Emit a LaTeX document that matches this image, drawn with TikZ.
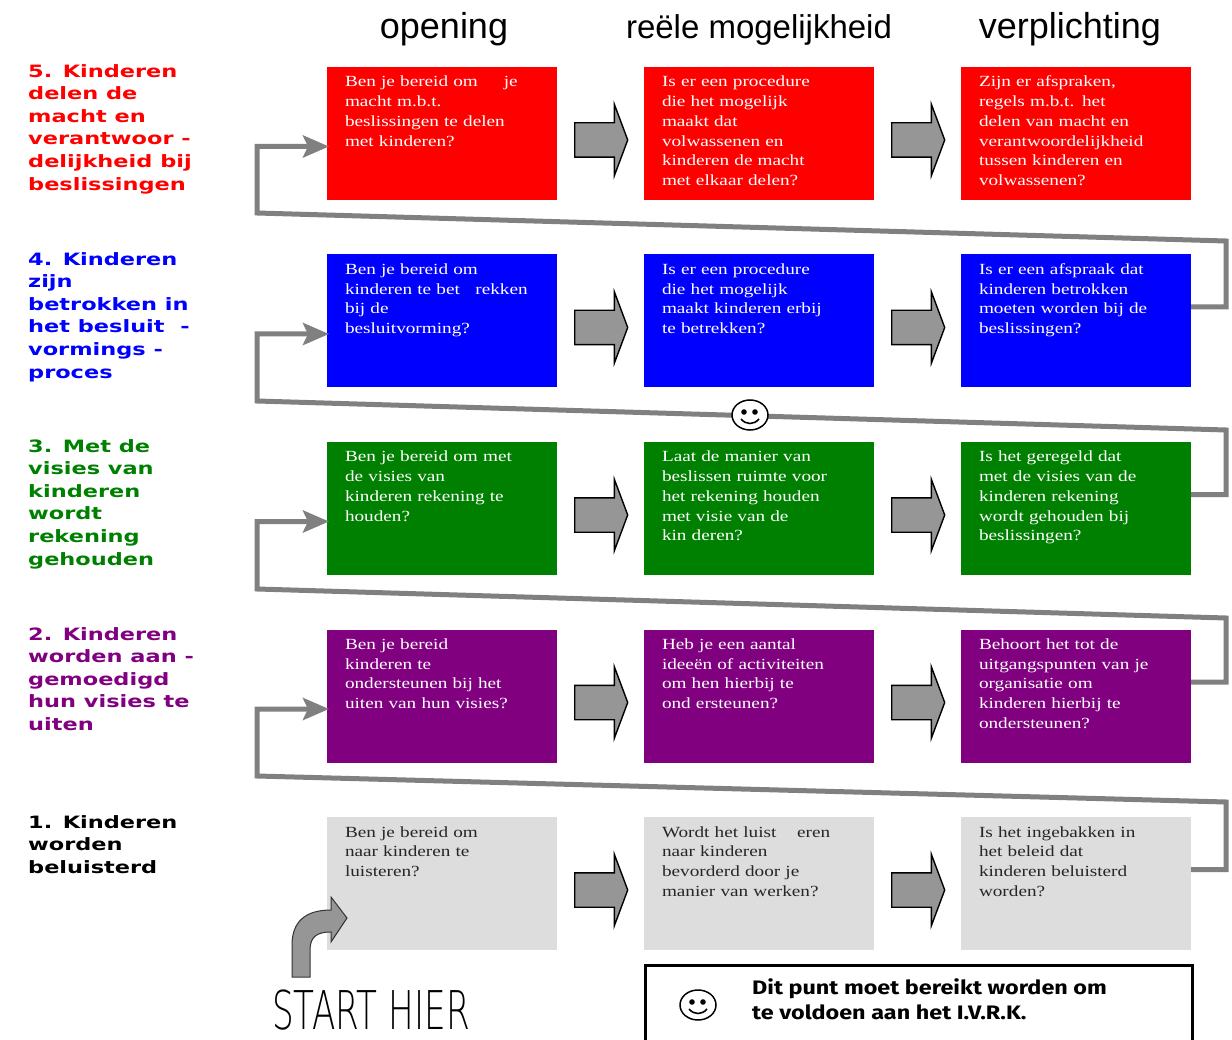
\documentclass[tikz,border=0pt]{standalone}
\usepackage{fontspec}
\setmainfont[FakeStretch=1.24]{Liberation Serif}
\newfontfamily\headfont{Liberation Sans}
\newfontfamily\labfont[FakeStretch=1.32]{DejaVu Sans}
\newfontfamily\notefont[FakeStretch=1.2]{Fira Sans}
\newfontfamily\startfont{DejaVu Sans ExtraLight}
\usetikzlibrary{positioning, arrows.meta, calc, shapes.geometric, shapes.arrows}

\begin{document}
\begin{tikzpicture}[x=1pt, y=-1pt]
	% Define styles
	\tikzset{
		card/.style={rectangle, outer sep=0pt, inner xsep=18pt, inner ysep=6pt, text width=194pt, align=left, text height=14pt, text depth=107pt, font=\fontsize{15.5}{19.7}\selectfont},
		redcard/.style={card, fill=red, text=white},
		bluecard/.style={card, fill=blue, text=white},
		greencard/.style={card, fill=green!50!black, text=white},
		purplecard/.style={card, fill=purple0, text=white},
		greycard/.style={card, fill=grey0, text=black!85},
		blockarrow/.style={single arrow, draw=black, line width=1.4pt, fill=arrowgrey, inner xsep=0pt, inner ysep=16.5pt, minimum height=53pt, single arrow head extend=18.5pt, single arrow tip angle=139},
		loopline/.style={draw=loopgrey, line width=5pt, -{Stealth[length=26pt, width=22pt, inset=5pt]}},
		lab/.style={anchor=north west, inner sep=0pt, align=left, font=\labfont\bfseries\fontsize{17}{22.6}\selectfont},
		head/.style={inner sep=0pt, font=\headfont\fontsize{36}{40}\selectfont},
		face/.style={ellipse, draw=black, line width=1.5pt, fill=white, minimum width=36pt, minimum height=30pt, inner sep=0pt}
	}
	\definecolor{purple0}{HTML}{800080}
	\definecolor{grey0}{HTML}{DDDDDD}
	\definecolor{arrowgrey}{HTML}{969696}
	\definecolor{loopgrey}{HTML}{808080}
	\clip (0,0) rectangle (1232,1040);
	% Nodes
	\node[redcard, anchor=north west] (a5) at (327,67) {Ben je bereid om\quad\ \ je\\macht m.b.t.\\beslissingen te delen\\met kinderen?};
	\node[redcard, right=87pt of a5] (b5) {Is er een procedure\\die het mogelijk\\maakt dat\\volwassenen en\\kinderen de macht\\met elkaar delen?};
	\node[redcard, right=87pt of b5] (c5) {Zijn er afspraken,\\regels m.b.t. het\\delen van macht en\\verantwoordelijkheid\\tussen kinderen en\\volwassenen?};

	\node[bluecard, below=54.5pt of a5] (a4) {Ben je bereid om\\kinderen te bet\quad rekken\\bij de\\besluitvorming?};
	\node[bluecard, below=54.5pt of b5] (b4) {Is er een procedure\\die het mogelijk\\maakt kinderen erbij\\te betrekken?};
	\node[bluecard, below=54.5pt of c5] (c4) {Is er een afspraak dat\\kinderen betrokken\\moeten worden bij de\\beslissingen?};

	\node[greencard, below=54.5pt of a4] (a3) {Ben je bereid om met\\de visies van\\kinderen rekening te\\houden?};
	\node[greencard, below=54.5pt of b4] (b3) {Laat de manier van\\beslissen ruimte voor\\het rekening houden\\met visie van de\\kin deren?};
	\node[greencard, below=54.5pt of c4] (c3) {Is het geregeld dat\\met de visies van de\\kinderen rekening\\wordt gehouden bij\\beslissingen?};

	\node[purplecard, below=54.5pt of a3] (a2) {Ben je bereid\\kinderen te\\ondersteunen bij het\\uiten van hun visies?};
	\node[purplecard, below=54.5pt of b3] (b2) {Heb je een aantal\\ideeën of activiteiten\\om hen hierbij te\\ond ersteunen?};
	\node[purplecard, below=54.5pt of c3] (c2) {Behoort het tot de\\uitgangspunten van je\\organisatie om\\kinderen hierbij te\\ondersteunen?};

	\node[greycard, below=54.5pt of a2] (a1) {Ben je bereid om\\naar kinderen te\\luisteren?};
	\node[greycard, below=54.5pt of b2] (b1) {Wordt het luist\quad\ eren\\naar kinderen\\bevorderd door je\\manier van werken?};
	\node[greycard, below=54.5pt of c2] (c1) {Is het ingebakken in\\het beleid dat\\kinderen beluisterd\\worden?};

	\node[head, above=21pt of a5, xshift=2pt] (h1) {opening};
	\node[head, above=21pt of b5, font=\headfont\fontsize{33}{40}\selectfont] (h2) {reële mogelijkheid};
	\node[head, above=21pt of c5, xshift=-6pt] (h3) {verplichting};

	\node[lab, text=red] (l5) at (28,64) {5. Kinderen\\delen de\\macht en\\verantwoor -\\delijkheid bij\\beslissingen};
	\node[lab, text=blue] (l4) at (28,252) {4. Kinderen\\zijn\\betrokken in\\het besluit\ \ -\\vormings -\\proces};
	\node[lab, text=green!50!black] (l3) at (28,439) {3. Met de\\visies van\\kinderen\\wordt\\rekening\\gehouden};
	\node[lab, text=purple0] (l2) at (28,627) {2. Kinderen\\worden aan -\\gemoedigd\\hun visies te\\uiten};
	\node[lab, text=black] (l1) at (28,815) {1. Kinderen\\worden\\beluisterd};

	% Arrows
	\node[blockarrow, right=17pt of a5, yshift=-6.5pt] (p5a) {};
	\node[blockarrow, right=17pt of b5, yshift=-6.5pt] (p5b) {};
	\node[blockarrow, right=17pt of a4, yshift=-6.5pt] (p4a) {};
	\node[blockarrow, right=17pt of b4, yshift=-6.5pt] (p4b) {};
	\node[blockarrow, right=17pt of a3, yshift=-6.5pt] (p3a) {};
	\node[blockarrow, right=17pt of b3, yshift=-6.5pt] (p3b) {};
	\node[blockarrow, right=17pt of a2, yshift=-6.5pt] (p2a) {};
	\node[blockarrow, right=17pt of b2, yshift=-6.5pt] (p2b) {};
	\node[blockarrow, right=17pt of a1, yshift=-6.5pt] (p1a) {};
	\node[blockarrow, right=17pt of b1, yshift=-6.5pt] (p1b) {};

	\foreach \from/\to/\ytop/\ylow in {c4/a5/241/213, c3/a4/430/401, c2/a3/618/589, c1/a2/802/776}
		\draw[loopline] ($(\from.east)+(0,-14)$) -| (1226,\ytop) -- (257,\ylow) |- ($(\to.west)+(2,13)$);

	% start arrow
	\draw[black!80, line width=1pt, fill=arrowgrey] (292,977) -- (292,945) .. controls (292,922) and (305,910) .. (331,910) -- (331,897) -- (347,918) -- (331,942) -- (331,932) .. controls (318,932) and (310,936) .. (310,950) -- (310,977) -- cycle;
	\node[inner sep=0pt, anchor=north west] (start) at (272,990) {\startfont\fontsize{30}{30}\selectfont\scalebox{1.14}[1.78]{START HIER}};

	% legend
	\node[draw=black, line width=3pt, minimum width=547pt, minimum height=100pt, anchor=north west] (legend) at ([yshift=-14pt]b1.south west) {};
	\node[anchor=north west, inner sep=0pt, align=left, font=\notefont\bfseries\fontsize{19.5}{25}\selectfont] (note) at (752,978) {Dit punt moet bereikt worden om\\te voldoen aan het I.V.R.K.};

	% smileys
	\node[face] (smile1) at (750,415) {};
	\node[face] (smile2) at (698,1005) {};
	\foreach \f in {smile1, smile2} {
		\fill ($(\f)+(-6,-3)$) circle (2.8);
		\fill ($(\f)+(5,-3)$) circle (2.8);
		\draw[line width=1.6pt] ($(\f)+(-9,4)$) .. controls ($(\f)+(-4,10)$) and ($(\f)+(4,10)$) .. ($(\f)+(9,4)$);
	}
\end{tikzpicture}
\end{document}
